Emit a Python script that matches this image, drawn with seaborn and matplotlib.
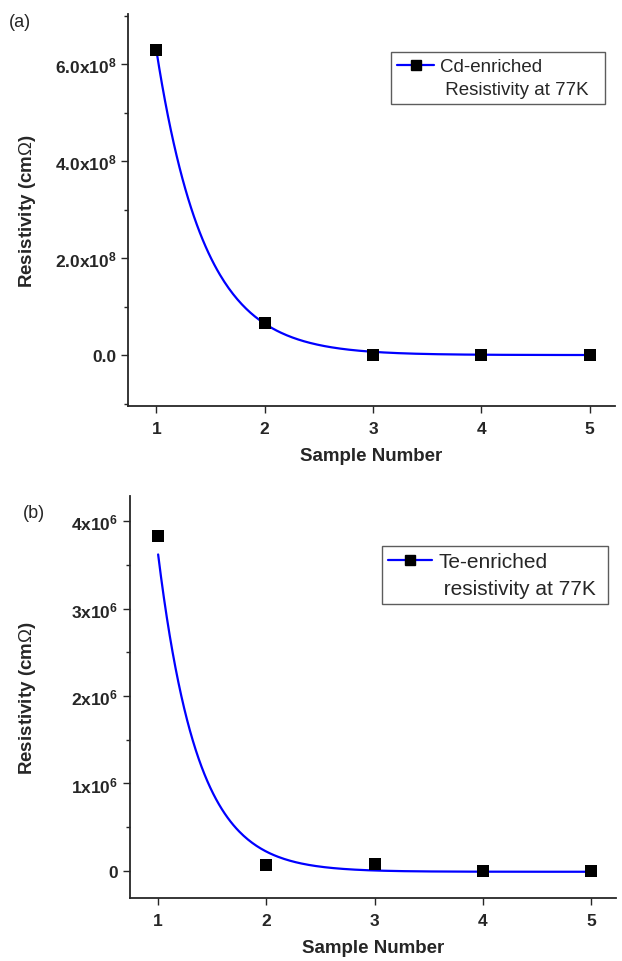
import numpy as np
import pandas as pd
import matplotlib
matplotlib.use('Agg')
import matplotlib.pyplot as plt
import seaborn as sns
from matplotlib.lines import Line2D
from matplotlib.ticker import FuncFormatter, MultipleLocator

sns.set_style('ticks')
plt.rcParams['font.family'] = ['Liberation Sans', 'DejaVu Sans']
plt.rcParams['mathtext.fontset'] = 'custom'
plt.rcParams['mathtext.bf'] = 'Liberation Sans:bold'
plt.rcParams['mathtext.rm'] = 'Liberation Sans'
plt.rcParams['mathtext.default'] = 'bf'

# data
samples = [1, 2, 3, 4, 5]
cd_resistivity = [6.3e8, 6.6e7, 1.0e6, 0.0, 0.0]
te_resistivity = [3.83e6, 7.0e4, 8.0e4, 0.0, 0.0]

# ExpDec1 fit parameters as drawn in the figure: y = y0 + A*exp(-(x-1)/t)
cd_fit = {'A': 6.3e8, 't': 0.44, 'y0': 0.0}
te_fit = {'A': 3.63e6, 't': 0.363, 'y0': -1.0e4}

cd_legend = ['Cd-enriched', ' Resistivity at 77K  ']
te_legend = ['Te-enriched', ' resistivity at 77K ']


def fit_curve(p):
    x = np.linspace(1, 5, 300)
    return pd.DataFrame({'x': x, 'y': p['y0'] + p['A'] * np.exp(-(x - 1) / p['t'])})


def fmt_a(v, pos):
    if abs(v) < 1:
        return '0.0'
    return f'{v / 1e8:.1f}x10$^{{8}}$'


def fmt_b(v, pos):
    if abs(v) < 1:
        return '0'
    return f'{v / 1e6:.0f}x10$^{{6}}$'


def panel(ax, values, fit, labels, ylim, major, minor, fmt, legend_pos, ylab_x,
          spacing, leg_size, handle_len):
    pts = pd.DataFrame({'x': samples, 'y': values})
    sns.lineplot(data=fit_curve(fit), x='x', y='y', ax=ax, color='#0000ff', lw=1.6)
    sns.scatterplot(data=pts, x='x', y='y', ax=ax, marker='s', s=78,
                    color='black', edgecolor='black', linewidth=0, zorder=3)
    ax.set_xlim(0.74, 5.23)
    ax.set_ylim(*ylim)
    ax.set_xticks(samples)
    ax.yaxis.set_major_locator(MultipleLocator(major))
    ax.yaxis.set_minor_locator(MultipleLocator(minor))
    ax.yaxis.set_major_formatter(FuncFormatter(fmt))
    for side in ['top', 'right']:
        ax.spines[side].set_visible(False)
    for side in ['left', 'bottom']:
        ax.spines[side].set_linewidth(1.3)
    ax.tick_params(axis='both', which='major', length=5, width=1.0, labelsize=12.5)
    ax.tick_params(axis='x', which='major', pad=6)
    ax.tick_params(axis='y', which='minor', length=3, width=1.0)
    for t in ax.get_xticklabels() + ax.get_yticklabels():
        t.set_fontweight('bold')
    ax.set_xlabel('Sample Number', fontsize=13.5, fontweight='bold', labelpad=8)
    ax.set_ylabel('Resistivity (cm$\\mathrm{\\Omega}$)', fontsize=13.5,
                  fontweight='bold')
    ax.yaxis.set_label_coords(ylab_x, 0.5)
    handles = [Line2D([], [], color='#0000ff', lw=1.6, marker='s', markersize=6.5,
                      markerfacecolor='black', markeredgecolor='black'),
               Line2D([], [], linestyle='none')]
    leg = ax.legend(handles, labels, loc='upper left', bbox_to_anchor=legend_pos,
                    fontsize=leg_size, frameon=True, fancybox=False, edgecolor='#333333',
                    handlelength=handle_len, handletextpad=0.3, labelspacing=spacing,
                    borderpad=0.3, borderaxespad=0)
    leg.get_frame().set_linewidth(1.0)


fig = plt.figure(figsize=(6.22, 9.62), dpi=100)
ax_a = fig.add_axes([0.206, 0.577, 0.782, 0.407])
ax_b = fig.add_axes([0.209, 0.0655, 0.781, 0.418])

panel(ax_a, cd_resistivity, cd_fit, cd_legend, (-1.05e8, 7.03e8), 2e8, 1e8, fmt_a,
      (0.541, 0.903), -0.185, 0.32, 13.5, 2.0)
panel(ax_b, te_resistivity, te_fit, te_legend, (-0.31e6, 4.29e6), 1e6, 0.5e6, fmt_b,
      (0.519, 0.876), -0.19, 0.38, 15, 2.1)

fig.text(0.015, 0.972, '(a)', fontsize=13)
fig.text(0.036, 0.462, '(b)', fontsize=13)

fig.savefig('out.png', dpi=100)
